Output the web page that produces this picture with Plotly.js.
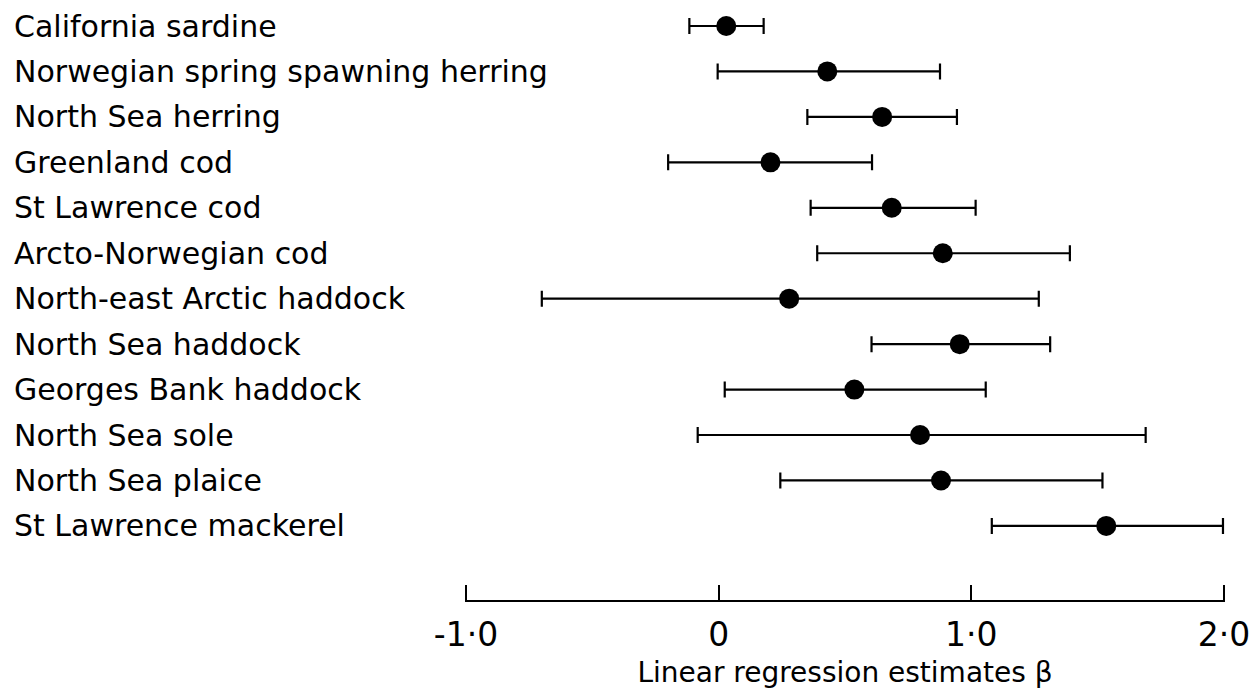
<!DOCTYPE html>
<html>
<head>
<meta charset="utf-8">
<script src="https://cdn.plot.ly/plotly-3.0.1.min.js"></script>
<style>html,body{margin:0;padding:0;background:#fff;}#chart{width:1257px;height:693px;}</style>
</head>
<body>
<div id="chart"></div>
<script>
const stocks = ["California sardine","Norwegian spring spawning herring","North Sea herring","Greenland cod","St Lawrence cod","Arcto-Norwegian cod","North-east Arctic haddock","North Sea haddock","Georges Bank haddock","North Sea sole","North Sea plaice","St Lawrence mackerel"];
const estimate = [0.03,0.43,0.647,0.205,0.685,0.887,0.279,0.954,0.537,0.797,0.88,1.534];
const lower    = [-0.116,-0.004,0.351,-0.2,0.364,0.39,-0.70,0.605,0.024,-0.083,0.244,1.081];
const upper    = [0.178,0.876,0.943,0.607,1.017,1.39,1.267,1.312,1.057,1.69,1.519,1.996];
const tickVals = [-1,0,1,2];
const tickText = ["-1\u00b70","0","1\u00b70","2\u00b70"];

const rows = stocks.map((s,i)=>i);
const plus = upper.map((u,i)=>u-estimate[i]);
const minus = lower.map((l,i)=>estimate[i]-l);
const font = "DejaVu Sans, sans-serif";

const trace = {
  type:'scatter', mode:'markers', x:estimate, y:rows,
  marker:{symbol:'circle', size:20, color:'#000'},
  error_x:{type:'data', symmetric:false, array:plus, arrayminus:minus, color:'#000', thickness:2.2, width:8},
  hoverinfo:'skip', showlegend:false, cliponaxis:false
};

const L=465, R=1225;
const annotations = stocks.map((s,i)=>({
  text:s, xref:'paper', yref:'y', x:(12-L)/(R-L), y:i, xanchor:'left', yanchor:'middle',
  showarrow:false, font:{family:font, size:30, color:'#000'}
}));

const layout = {
  width:1257, height:693,
  margin:{l:L, r:1257-R, t:0, b:93, pad:0},
  paper_bgcolor:'#fff', plot_bgcolor:'#fff',
  xaxis:{range:[-1.004,2.004], tickvals:tickVals, ticktext:tickText, ticks:'inside', ticklen:15, tickwidth:2, tickcolor:'#000',
    showline:true, linewidth:2, linecolor:'#000', showgrid:false, zeroline:false,
    tickfont:{family:font, size:33, color:'#000'}, ticklabelstandoff:4,
    title:{text:'Linear regression estimates \u03b2', font:{family:font, size:28, color:'#000'}, standoff:10}},
  yaxis:{range:[12.63,-0.572], visible:false, showgrid:false, zeroline:false},
  annotations:annotations
};
Plotly.newPlot('chart',[trace],layout,{staticPlot:true, displayModeBar:false});
</script>
</body>
</html>
